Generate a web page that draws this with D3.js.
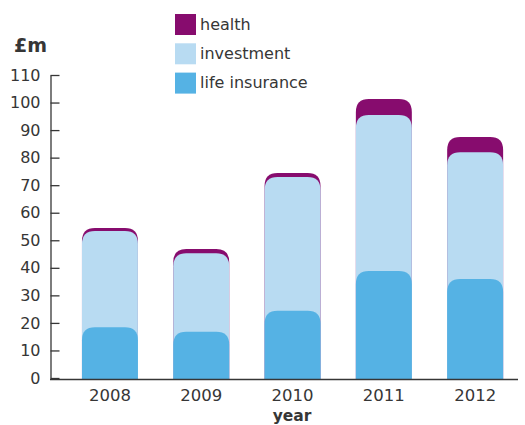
<!DOCTYPE html>
<html>
<head>
<meta charset="utf-8">
<script src="https://cdn.jsdelivr.net/npm/d3@7"></script>
<style>
  html, body { margin: 0; padding: 0; background: #fff; }
  svg { display: block; font-family: "DejaVu Sans", sans-serif; }
</style>
</head>
<body>
<svg id="chart" width="525" height="425"></svg>
<script>
// Premium income by line of business, £m
const years = ["2008", "2009", "2010", "2011", "2012"];
const lifeInsurance = [18.4, 16.8, 24.4, 38.8, 35.9];
const investment = [35.0, 28.5, 48.6, 56.7, 46.1];
const health = [1.1, 1.5, 1.4, 5.8, 5.5];
const yTicks = [0, 10, 20, 30, 40, 50, 60, 70, 80, 90, 100, 110];

const seriesKeys = ["life insurance", "investment", "health"];
const colors = {
  "health": "#870c6e",
  "investment": "#b8dbf2",
  "life insurance": "#55b2e4"
};

const rows = years.map((yr, i) => ({
  year: yr,
  "life insurance": lifeInsurance[i],
  "investment": investment[i],
  "health": health[i]
}));

const svg = d3.select("#chart");
const textColor = "#363636";

const x = d3.scaleBand()
  .domain(years)
  .range([64.3, 520.8])
  .paddingInner(0.387)
  .paddingOuter(0.1935);

const y = d3.scaleLinear().domain([0, 110]).range([378, 75]);

const stacked = d3.stack().keys(seriesKeys)(rows);

// rectangle with rounded top corners, square bottom
function roundTop(x0, y0, w, h, r) {
  r = Math.min(r, h, w / 2);
  return `M${x0},${y0 + h}V${y0 + r}Q${x0},${y0} ${x0 + r},${y0}H${x0 + w - r}Q${x0 + w},${y0} ${x0 + w},${y0 + r}V${y0 + h}Z`;
}

// each layer is drawn from the baseline to its cumulative top, back to front
const layers = stacked.slice().reverse();
svg.append("g")
  .selectAll("g")
  .data(layers)
  .join("g")
  .attr("fill", d => colors[d.key])
  .selectAll("path")
  .data(d => d)
  .join("path")
  .attr("d", d => {
    const top = y(d[1]);
    return roundTop(x(d.data.year), top, x.bandwidth(), y(0) + 1.5 - top, 13);
  });

// y axis
const yAxis = svg.append("g")
  .attr("transform", "translate(50.5,0)")
  .call(d3.axisLeft(y).tickValues(yTicks).tickSize(-9).tickSizeOuter(0).tickPadding(10));
yAxis.select(".domain").attr("stroke", textColor).attr("stroke-width", 1.3);
yAxis.selectAll(".tick line").attr("stroke", textColor).attr("stroke-width", 1.3);
yAxis.selectAll("text")
  .attr("fill", textColor)
  .style("font-size", "16px")
  .style("font-family", "DejaVu Sans, sans-serif");

// x axis
const xAxis = svg.append("g")
  .attr("transform", "translate(0,378)")
  .call(d3.axisBottom(x).tickSize(0).tickPadding(11));
xAxis.select(".domain").remove();
xAxis.selectAll("text")
  .attr("fill", textColor)
  .style("font-size", "16.5px")
  .style("font-family", "DejaVu Sans, sans-serif");

svg.append("line")
  .attr("x1", 50).attr("x2", 518)
  .attr("y1", 379.5).attr("y2", 379.5)
  .attr("stroke", textColor)
  .attr("stroke-width", 1.6);

// axis titles
svg.append("text")
  .attr("x", 14).attr("y", 52)
  .attr("fill", textColor)
  .style("font-size", "19px")
  .style("font-weight", "bold")
  .text("£m");

svg.append("text")
  .attr("x", 292).attr("y", 421)
  .attr("text-anchor", "middle")
  .attr("fill", textColor)
  .style("font-size", "15.5px")
  .style("font-weight", "bold")
  .text("year");

// legend
const legendKeys = ["health", "investment", "life insurance"];
const legend = svg.append("g")
  .selectAll("g")
  .data(legendKeys)
  .join("g")
  .attr("transform", (d, i) => `translate(175,${14 + i * 29.3})`);
legend.append("rect")
  .attr("width", 21).attr("height", 21)
  .attr("fill", d => colors[d]);
legend.append("text")
  .attr("x", 25).attr("y", 15.5)
  .attr("fill", textColor)
  .style("font-size", "16px")
  .text(d => d);
</script>
</body>
</html>
